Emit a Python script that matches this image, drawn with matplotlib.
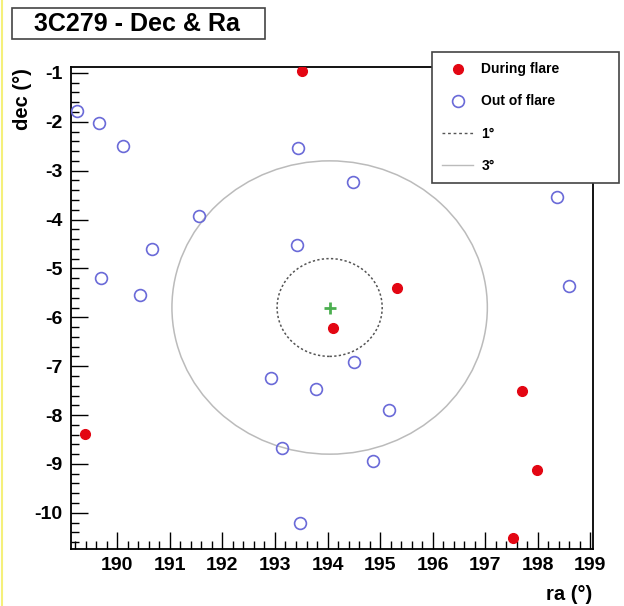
import matplotlib
matplotlib.use("Agg")
import matplotlib.pyplot as plt
from matplotlib.lines import Line2D
from matplotlib.patches import Circle
from matplotlib.ticker import MultipleLocator
import numpy as np

plt.rcParams['font.family'] = ['Liberation Sans', 'DejaVu Sans']
plt.rcParams['font.weight'] = 'bold'
plt.rcParams['axes.unicode_minus'] = False

# source position (3C279)
src_ra, src_dec = 194.04, -5.80
radii = [1, 3]

# during flare
flare_ra = [193.52, 195.33, 194.11, 189.38, 197.69, 197.99, 197.52]
flare_dec = [-0.96, -5.40, -6.21, -8.38, -7.50, -9.12, -10.51]

# out of flare
out_ra = [189.23, 189.65, 190.10, 191.55, 190.67, 189.70, 190.44, 193.43, 194.49,
          193.41, 194.51, 192.92, 193.79, 195.16, 193.14, 194.87, 193.47, 198.37, 198.60]
out_dec = [-1.78, -2.02, -2.49, -3.92, -4.60, -5.19, -5.54, -2.53, -3.23,
           -4.52, -6.91, -7.24, -7.46, -7.89, -8.67, -8.93, -10.20, -3.54, -5.37]

fig = plt.figure(figsize=(6.24, 6.06), dpi=100)
ax = fig.add_axes([71/624, 1-549/606, 522/624, 482/606])

red = '#e30613'
blue = '#6a6ad8'

ax.plot(flare_ra, flare_dec, 'o', color=red, ms=7, zorder=3)
ax.plot(out_ra, out_dec, 'o', mfc='none', mec=blue, mew=1.2, ms=8.5, zorder=3)
ax.plot([src_ra], [src_dec], '+', color='#4caf50', ms=8, mew=2, zorder=3)

ax.add_patch(Circle((src_ra, src_dec), radii[0], fill=False, ec='#555555', lw=1.1, ls=(0, (1.5, 1.5))))
ax.add_patch(Circle((src_ra, src_dec), radii[1], fill=False, ec='#bbbbbb', lw=1.1))

ax.set_xlim(189.12, 199.05)
ax.set_ylim(-10.74, -0.88)

ax.xaxis.set_major_locator(MultipleLocator(1))
ax.xaxis.set_minor_locator(MultipleLocator(0.2))
ax.yaxis.set_major_locator(MultipleLocator(1))
ax.yaxis.set_minor_locator(MultipleLocator(0.2))
ax.tick_params(which='both', direction='in', top=False, right=False, labelsize=14, width=1)
ax.tick_params(which='major', length=12, pad=6)
ax.tick_params(which='minor', length=6)
for s in ax.spines.values():
    s.set_linewidth(1.3)

fig.text(592/624, 1-594/606, 'ra (°)', ha='right', va='center', fontsize=14.5, fontweight='bold')
fig.text(22/624, 1-68/606, 'dec (°)', ha='center', va='top', rotation=90, fontsize=14.5, fontweight='bold')

fig.text(137/624, 1-24/606, '3C279 - Dec & Ra', ha='center', va='center', fontsize=18, fontweight='bold')
fig.patches.append(plt.Rectangle((12/624, 1-39/606), 253/624, 31/606, transform=fig.transFigure,
                                 fill=False, ec='#444444', lw=1.2))
fig.add_artist(Line2D([2/624, 2/624], [0, 1], color='#f5f07a', lw=1.5))

handles = [
    Line2D([], [], ls='none', marker='o', color=red, ms=7),
    Line2D([], [], ls='none', marker='o', mfc='none', mec=blue, mew=1.2, ms=8.5),
    Line2D([], [], color='#555555', lw=1, ls=(0, (2, 2))),
    Line2D([], [], color='#bbbbbb', lw=1),
]
labels = ['During flare', 'Out of flare', '1°', '3°']
leg = fig.legend(handles, labels, loc='upper left', bbox_to_anchor=(432/624, 1-52/606, 187/624, 0),
                 mode='expand', fontsize=10, frameon=True, fancybox=False, framealpha=1,
                 edgecolor='#444444', labelspacing=1.3, handlelength=2.2, handletextpad=0.6,
                 borderpad=0.75, borderaxespad=0)
leg.get_frame().set_linewidth(1.2)

fig.savefig('out.png', dpi=100)
